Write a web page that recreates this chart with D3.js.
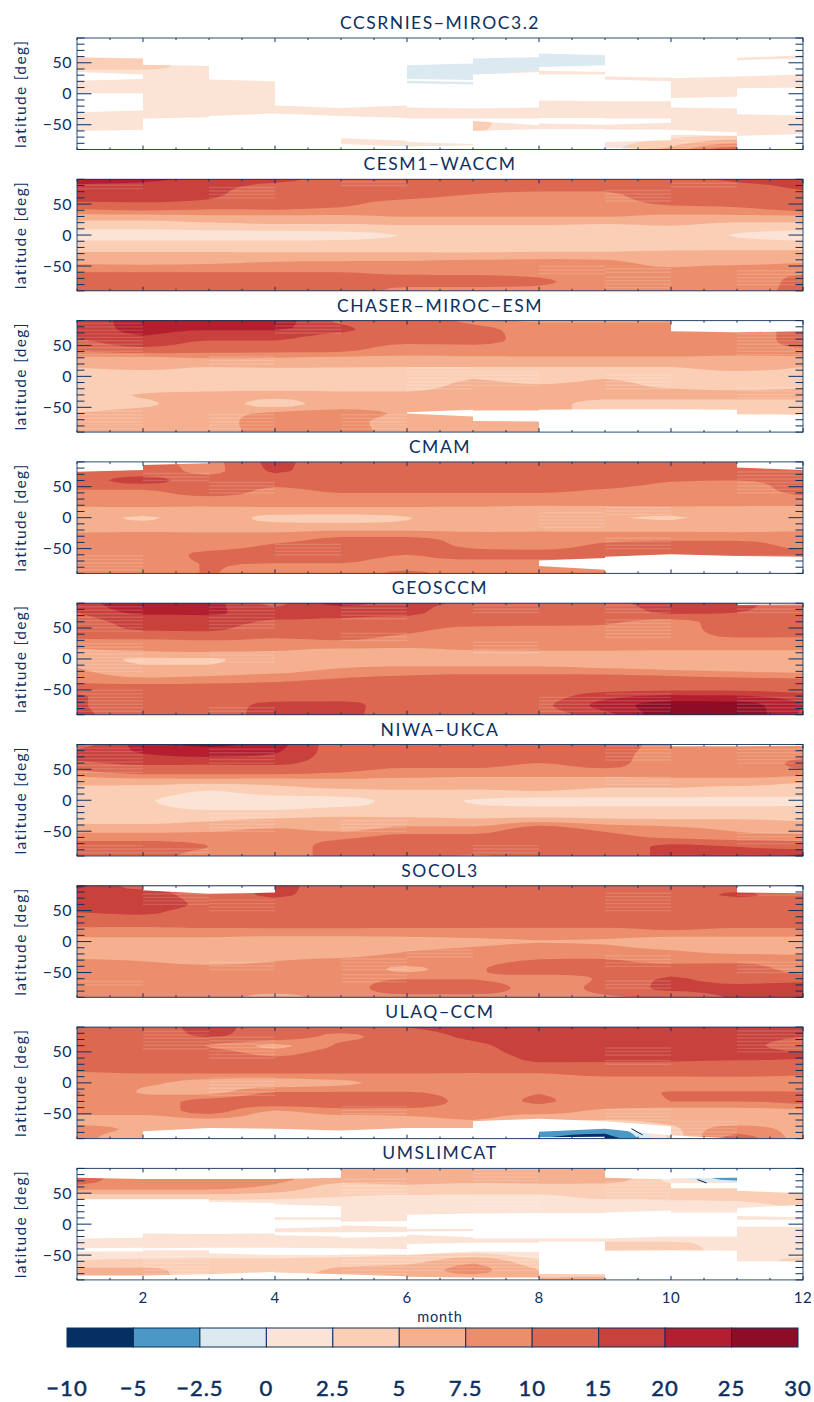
<!DOCTYPE html>
<html><head><meta charset="utf-8">
<script src="https://cdn.jsdelivr.net/npm/d3@7"></script>
<style>html,body{margin:0;padding:0;background:#fff}svg{display:block}text{font-family:Lato,"Noto Sans",sans-serif;fill:#0b2f5f}</style>
</head><body><svg id="c" width="814" height="1402"></svg>
<script>
const months=[1,2,3,4,5,6,7,8,9,10,11,12];
const lats=[90,75,60,45,30,15,0,-15,-30,-45,-60,-75,-90];
const levels=[-10,-5,-2.5,0,2.5,5,7.5,10,15,20,25];
const levelLabels=["−10","−5","−2.5","0","2.5","5","7.5","10","15","20","25","30"];
const colours=["#053061","#4b98c6","#dbe9f1","#fbe3d6","#fbcfb6","#f5b090","#ec8e6c","#dc6851","#c8413c","#b31f2e","#8e0c25"];
const names=["CCSRNIES−MIROC3.2","CESM1−WACCM","CHASER−MIROC−ESM","CMAM","GEOSCCM","NIWA−UKCA","SOCOL3","ULAQ−CCM","UMSLIMCAT"];

const ccsrnies=[
[1,1,1,1,1,1,1,1,1,1,1,1],
[1,1,1,1,1,1,1,1,1,1,1,1],
[3,3,1,1,1,-1,-1,-1,-1,1,1,1],
[3.5,3.5,1,1,1,-1,-1,-1,-1,1,1,1],
[1,1,1,1,1,-1,-1,1,1,1,1,1],
[1,1,1,1,1,-1,-1,1,1,1,1,1],
[1,1,1,1,1,1,1,1,1,1,1,1],
[1,1,1,1,1,1,1,1,1,1,1,1],
[1,1,1,1,1,1,1,1,1,1,1,1],
[1,1,1,1,1,1,2.7,1.5,1,1,1,1],
[1,1,1,1,1,1,2.7,1,1,1,1,1.5],
[1,1,1,1,1,1,1,1,1.5,3,5.5,2],
[1,1,1,1,1,2,1,1,2,6,12,2]];
const ccsrniesMask=[
[1,-90,-90,-60,-58],[1,-30,-27,1,1],[1,21,24,35,31],[1,59,57,90,90],
[2,-90,-90,-40,-38],[2,47,45,90,90],
[3,-90,-90,-36,-32],[3,23,20,90,90],
[4,-90,-90,-32,-36],[4,-19,-23,90,90],
[5,-90,-90,-81,-85],[5,-72,-76,-36,-39],[5,-23,-19,90,90],
[6,-90,-90,-85,-83],[6,-78,-81,-40,-40],[6,-22,-24,17,15],[6,21,19,24,22],[6,46,49,90,90],
[7,-90,-90,-60,-57],[7,-44,-51,-40,-40],[7,-24,-22,31,35],[7,57,59,90,90],
[8,-90,-90,-57,-57],[8,-48,-50,-39,-39],[8,-11,-12,31,31],[8,37,35,43,46],[8,65,62,90,90],
[9,-90,-90,-87,-90],[9,-78,-75,-58,-58],[9,-50,-47,-40,-40],[9,-12,-12,23,20],[9,28,26,90,90],
[10,-66,-68,-58,-62],[10,-22,-24,-7,-5],[10,25,28,90,90],
[11,-90,-90,-68,-65],[11,-33,-35,9,10],[11,28,31,54,57],[11,58,62,90,90]];
const ccsrniesStripes=[[10,-90,-70]];

const cesm=[
[23,21,19,17,13,13,13,12,12,13,16,18],
[18,18,17,12,12,12,11,10.5,10.5,13,13,15.5],
[17,17,15.5,10.5,10.5,10.2,9.5,9,9,12,12,13],
[11,12,11,10.5,10,9,9,8.5,8.5,9.5,10,12],
[6.5,6.5,7,7,7,7.6,7.6,7.6,7.6,7,7,7],
[3.5,3.5,4,4.5,4.5,4.8,4.8,4.8,4.5,5,4,4],
[1.5,1.5,1.5,1.5,1.8,2.6,3.2,3.2,3.2,3,2.4,1.5],
[3.5,3.5,3.5,3.5,3.5,3.5,3.5,3.5,3.5,3.5,3.5,3.5],
[5.3,5.3,5.3,5.3,5.3,5.3,5.3,5.5,5.5,5.8,5.8,5.8],
[7.2,7,7.2,7.8,8,8,8.5,8.5,8,7,7,7.5],
[10,10,10,10,10,9.5,9.5,9,8,8,9,9.5],
[12,12,12,12,11,11,11,10.5,8.5,8.5,8.5,11],
[12,12,12,12,12,9,9,9,9,9,9,11]];
const cesmMask=[];
const cesmStripes=[[3,60,78],[9,55,72],[10,78,88],[5,80,88],[1,75,85],[9,-60,-50],[8,-62,-48],[11,-80,-55],[9,-85,-65]];

const chaser=[
[16,22,22,22,14,13,9,7,7,7,7,7],
[17,21,20.1,20.1,16,12,11,9,9,9,9,11],
[14.5,19,15.5,15.5,11,11,11,9,9,9,9,11],
[11,14,12,12,11,9,9,9,9,9,9,10],
[7,7,7.7,7.5,7,7,7.2,7.2,7.2,7.2,7,7],
[5.2,6,5,5.2,5.1,5,5,5,5,5,6,5],
[3,3,3,3,3,3,4.9,4,4.9,4,4,4],
[3,3,4,4,4,4,5.6,5.2,5.6,4.5,4,4.5],
[3.5,5.2,5.5,5.5,5.5,5.5,6,6,6,6,6,6],
[3.5,4.6,6,4.2,6,6,6,6,4,4,4,4],
[5.2,6,6.5,8,8.5,7,6,6,4,4,4,4],
[6,6,6.5,8.5,8.5,6,6,6,6,6,6,6],
[6,6,6,9,9,6,6,6,6,6,6,6]];
const chaserMask=[
[6,-60,-65,-58,-54],[7,-72,-73,-55,-55],[8,-90,-90,-54,-53],[9,-90,-90,-53,-53],[10,-90,-90,-53,-54],[11,-90,-90,-61,-62],
[10,73,71,90,90],[11,71,73,90,90]];
const chaserStripes=[[1,35,90],[1,-90,-55],[3,-90,-60],[3,20,35],[4,70,90],[5,-90,-60],[6,-20,15],[7,-15,10],[9,-20,5],[11,35,75],[11,-35,-15]];

const cmam=[
[11,11,9,16,12,12,12,12,12,12,12,12],
[12,12,9,15.5,12,12,12,12,12,12,12,12],
[12,17,12,12,12,12,12,12,12,10.2,10,11],
[10,10,12,9.5,10.5,10.5,10.5,10.5,9.8,9,9,11],
[9,9,9,9,9,9,9,9,9,9,9,9],
[7.2,7.2,7.2,7.2,7.2,7.2,7.2,7,7,7,7,7],
[6,4.8,6,4.5,4.4,4.9,6,6,5.2,4.8,6,4.9],
[6,6,6,6,6,6,6,6.5,6.5,6.5,6.5,6.5],
[8.5,8.5,8.5,8.5,9.8,9.8,9,8.5,8.5,8.5,8.5,8.5],
[9,9,9,10.3,11,11,9.5,9,10.5,11,11,9],
[9,9,10.5,11,11,10,11,11,11,10,11,11],
[9,9,10.1,9.9,9.9,9,9,9,9,9,9,9],
[9,9,10.1,9,9,10.5,9,9,9,9,9,9]];
const cmamMask=[
[1,74,77,90,90],[2,85,88,90,90],[11,81,77,90,90],
[8,-78,-84,-69,-65],[9,-90,-90,-63,-59],[10,-90,-90,-59,-62],[11,-90,-90,-62,-63]];
const cmamStripes=[[1,-90,-60],[2,60,75],[3,40,60],[4,-60,-40],[8,-15,10],[9,5,20],[9,-50,-30],[11,40,75],[11,-90,-60]];

const geosccm=[
[16,25,22,14,22,17,14,12,13,18,16,13],
[15,21,21,16,16,16,11,12,11,16,15,13],
[12,17,17,14.5,14.5,13,11,11,10.5,9,12,13],
[12,14.8,15.1,12,12,10.5,9,9,9,9,11,11],
[9.5,9.5,10,9.5,10,9,9,9,9,9,9.5,9.5],
[7.3,8,8.5,7.8,7.2,7.2,7.6,7.7,7.7,7.6,7.6,7.6],
[6,4.8,4.8,6,6,6,6,6,6,6,6,6],
[7.6,5.3,5.3,6,7.5,8,8,8,7.5,7,6.5,6],
[9,7.5,8,9,9.9,10.5,11,11,11,10.5,10,9.8],
[11,11,11,11,11,12,12,12,12,12,12,11],
[15.5,13,13,13,13,13,13,13,18,21,20.5,17],
[15.5,13,13,16,16,13,13,14,22,27,27,20],
[16,13,13,16.5,16,13,13,13,18,28,28,19]];
const geosccmMask=[[11,87,88,90,90]];
const geosccmStripes=[[1,45,90],[1,-90,-50],[1,-20,30],[3,50,90],[3,-5,15],[3,-90,-75],[5,65,90],[5,30,45],[7,75,90],[7,10,30],[9,75,90],[9,35,65],[9,-90,-55],[8,-90,-60],[11,75,90],[11,-90,-60]];

const niwa=[
[12,22,26,22,13,13,13,13,13,8,8,9],
[17,20,22,20,13,13,13,13,12,8,8,9],
[14,16,16,16,12,11,11,10,11,8,8,11],
[9,11,11,11,10,9,9,9,9,9,9,9],
[6,6,6,6,6.5,6.5,6,6,6,6,6,5.2],
[4,4,2.4,4,4.5,4.8,4.8,5,4.5,4.5,4,4],
[3,2.7,1.5,1.5,1.8,3,2.4,2,2,2,2,2],
[3,3,2.4,2.4,3,3,3,3,3,3,3,3],
[4,4,4.5,5.1,5.5,5.5,5.1,5.5,5.1,4.9,4.9,4.5],
[6,6,6.5,7.5,6.5,8,8,11,9,8,7,6.5],
[9,9,9,9,9.5,11,11,12,11,9.5,8.5,8.5],
[11,11,10,9,11,12,12,12,12,16,15,13],
[11,11,9,9,11,12,9.5,12,12,16,16,22]];
const niwaMask=[[10,87,87,90,90],[11,87,88,90,90]];
const niwaStripes=[[1,45,90],[1,-90,-70],[2,-90,-75],[3,-50,-20],[3,60,85],[5,-50,-30],[7,-90,-70],[9,65,90],[9,20,40],[11,-70,-50],[11,60,90]];

const socol=[
[22,13,13,16,13,13,13,13,13,13,13,13],
[17,17,13,15.5,13,13,13,13,13,13,15.5,13],
[17,17,14,13,12,12,12,12,12,12,12,12],
[14.5,15.4,12,12,12,12,12,12,12,12,12,12],
[11,11,11,11,11,11,11,11,11,11,11,11],
[9,9,9,9,9,9,9,9,9,9.5,9,9],
[6.5,6.5,6.5,6,6,6.5,7,7.4,7.3,6,6.5,6.5],
[6,6,6,6,6,7.4,8,9,8.5,7.6,7,7],
[7.7,7.4,7,7.4,8,8.5,9,10.1,10.2,9,9,8],
[8,8,8,8,9,7,9.5,11.5,11,12,12,8],
[10.1,9,9,9,9,9.9,9.9,9,10.5,15.5,13,13],
[9,9,9,9,9,11.5,11.5,9,11,16,16,17],
[9,9,9,6,9,9,9,9,9.5,11,15.5,16]];
const socolMask=[[2,83,77,90,90],[3,77,79,90,90],[11,79,78,90,90]];
const socolStripes=[[1,-70,-60],[2,60,85],[3,50,70],[3,-45,-30],[5,-45,-25],[5,-65,-50],[6,-25,-10],[9,50,80],[9,-40,-20],[9,-75,-60],[11,75,90],[11,-50,-30]];

const ulaq=[
[12,12,17,12,12,15.2,17,17,17,17,17,17],
[12,12,15.3,12,9.5,12,16,17,17,17,17,15.1],
[12,12,9.8,7,10.5,12,14,17,17,17,16.5,12],
[12,12,12,9.5,12,12,13,16,16,17,17,15.8],
[12,12,12,12,12,12,12,14.5,14.5,14,13,13],
[9.5,10,10,10,10,10,9.9,9.9,11,11,11,10.5],
[8.5,8,6.5,6,7,8.5,9,9,8.5,8.5,8.5,8.5],
[10.2,7.3,6.8,10.1,10.1,10.1,9,9.9,9,10.1,10.1,10.1],
[9,9,11,12,12,12,9,10.2,9,10,10,10.5],
[8.5,8.5,11,7.4,9,9,8.5,8.5,7,6.5,6.5,7],
[6.5,6.5,7,6,6,6.5,7.5,5,5,6,6,6],
[8.5,7,6,5,5,5,5,-3,-3.5,4,9,6],
[9,5,5,5,5,5,5,-4.9,-6,3,11,6]];
const ulaqMask=[
[2,-90,-90,-78,-73],[3,-90,-90,-73,-74],[4,-90,-90,-74,-77],[5,-90,-90,-77,-73],[6,-90,-90,-73,-73],
[7,-90,-90,-62,-58],[8,-79,-74,-58,-62],[8,-90,-90,-88,-87],[9,-74,-85,-62,-70],[10,-90,-90,-85,-90]];
const ulaqStripes=[[2,55,85],[3,40,75],[3,-20,10],[5,-50,-35],[9,45,60],[9,30,40],[9,-60,-40],[10,-85,-60],[11,50,85]];

const umslimcat=[
[6,6,6,6,6,6,5,6,7,3,2,2],
[12,8,8,8,6,6,6,6.5,6.5,1.5,-4,2],
[9,8,8,7,4,4.5,4,4,4,3,3,3],
[4,4,4,3.5,2.6,2.2,2.2,2.2,3,3,3,4],
[1,1,1,1,1,1,1,1,1.5,1.5,1.8,3],
[1,1,1,1,1,1,1,1,1,1,1,1],
[1,1,1,1,1,1,1,1,1,1,1,1],
[1,1,1,1,1,1,1,1,1,1,1,1],
[1,1,1,1,1,1,1,1,2.7,2.7,1.5,1],
[1.5,1.5,1.5,1.5,1.5,2,2,1,3.5,3.5,1.5,1.5],
[2.7,3,3,3,3.5,4,7.2,3,2,2,2,3],
[5.5,5.5,4,4,5.5,6.5,8,5,3,2,2,2],
[5,5,5,5,5.5,5,6,5,6,2,2,2]];
const umslimcatMask=[
[1,-90,-90,-83,-83],[1,-44,-44,-39,-38],[1,-23,-22,40,40],[1,75,73,90,90],
[2,-90,-90,-83,-81],[2,-42,-42,-39,-38],[2,-15,-16,40,40],[2,73,73,90,90],
[3,-90,-90,-81,-77],[3,-47,-50,-38,-38],[3,-16,-15,36,34],[3,73,73,90,90],
[4,-90,-90,-78,-81],[4,-50,-50,-38,-39],[4,-18,-20,-13,-13],[4,-7,-4,7,7],[4,11,11,32,29],[4,73,75,90,90],
[5,-90,-90,-81,-84],[5,-49,-49,-39,-40],[5,-22,-20,-13,-13],[5,-2,-4,4,5],
[6,-90,-90,-85,-86],[6,-50,-44,-32,-30],[6,-17,-21,-12,-11],[6,-8,-8,15,17],
[7,-90,-90,-86,-86],[7,-44,-45,-30,-30],[7,-23,-23,17,18],
[8,-80,-81,-28,-28],[8,-23,-23,18,18],
[9,-90,-90,-43,-42],[9,-23,-20,19,22],[9,75,72,90,90],
[10,-90,-90,-42,-43],[10,-20,-20,19,19],[10,58,58,66,67],[10,74,75,90,90],
[11,-90,-90,-60,-60],[11,-4,-4,7,7],[11,13,11,26,31],[11,54,50,90,90]];
const umslimcatStripes=[[2,-80,-50],[5,50,75],[5,-80,-50],[6,-75,-50],[7,-75,-50],[7,25,45],[7,65,90],[9,40,70]];

const fields=[ccsrnies,cesm,chaser,cmam,geosccm,niwa,socol,ulaq,umslimcat];
const masks=[ccsrniesMask,cesmMask,chaserMask,cmamMask,geosccmMask,niwaMask,socolMask,ulaqMask,umslimcatMask];
const stripes=[ccsrniesStripes,cesmStripes,chaserStripes,cmamStripes,geosccmStripes,niwaStripes,socolStripes,ulaqStripes,umslimcatStripes];
/* short dark contour fragments: panel, month0, lat0, month1, lat1 */
const fragments=[[7,9.4,-74,9.57,-84],[8,10.4,72,10.54,66.5]];

const ink="#0b3060";
const stripeStep=5.6;
const svg=d3.select("#c");
const x=d3.scaleLinear().domain([1,12]).range([77,803]);
const panelTop=i=>38+i*141.3;
const panelH=111.5;

/* render-time smoothing of a column or row: monotone cubic through the read values */
const sub=4;
function refine(v){
  const n=v.length,d=d3.pairs(v,(a,b)=>b-a);
  const m=v.map((_,i)=>{
    if(i===0)return d[0];
    if(i===n-1)return d[n-2];
    const a=d[i-1],b=d[i];
    return (Math.sign(a)+Math.sign(b))*Math.min(Math.abs(a),Math.abs(b),Math.abs(a+b)/4);
  });
  const out=[];
  for(let i=0;i<n-1;i++)for(let s=0;s<sub;s++){
    const t=s/sub,t2=t*t,t3=t2*t;
    out.push((2*t3-3*t2+1)*v[i]+(t3-2*t2+t)*m[i]+(-2*t3+3*t2)*v[i+1]+(t3-t2)*m[i+1]);
  }
  out.push(v[n-1]);
  return out;
}
function refineGrid(f){
  const rows=f.map(refine);
  const cols=d3.range(rows[0].length).map(c=>refine(rows.map(r=>r[c])));
  return d3.range(cols[0].length).flatMap(r=>cols.map(c=>c[r]));
}
const nx=(months.length-1)*sub+1, ny=(lats.length-1)*sub+1;
const contourGen=d3.contours().size([nx,ny]).thresholds(levels);
const defs=svg.append("defs");

fields.forEach((field,i)=>{
  const top=panelTop(i);
  const y=d3.scaleLinear().domain([90,-90]).range([top,top+panelH]);
  const gx=d3.scaleLinear().domain([0.5,nx-0.5]).range([x(months[0]),x(months[months.length-1])]);
  const gy=d3.scaleLinear().domain([0.5,ny-0.5]).range([y(lats[0]),y(lats[lats.length-1])]);
  const path=d3.geoPath(d3.geoTransform({point(a,b){this.stream.point(gx(a),gy(b));}}));
  defs.append("clipPath").attr("id","clip"+i).append("rect").attr("x",x(1)).attr("y",top).attr("width",x(12)-x(1)).attr("height",panelH);
  const g=svg.append("g").attr("clip-path",`url(#clip${i})`);
  g.selectAll("path.band").data(contourGen(refineGrid(field))).join("path").attr("class","band")
    .attr("d",path).attr("fill",d=>colours[levels.indexOf(d.value)]);
  stripes[i].forEach(s=>{
    d3.range(s[1],s[2],stripeStep).forEach(l=>g.append("line")
      .attr("x1",x(s[0])).attr("x2",x(s[0]+1)).attr("y1",y(l)).attr("y2",y(l))
      .attr("stroke","#fff").attr("stroke-opacity",.15).attr("stroke-width",1.4));
  });
  g.selectAll("path.mask").data(masks[i]).join("path").attr("class","mask")
    .attr("d",m=>d3.line()([[x(m[0]),y(m[1])],[x(m[0]+1),y(m[2])],[x(m[0]+1),y(m[4])],[x(m[0]),y(m[3])]])+"Z")
    .attr("fill","#fff");
  fragments.filter(f=>f[0]===i).forEach(f=>g.append("line").attr("x1",x(f[1])).attr("y1",y(f[2])).attr("x2",x(f[3])).attr("y2",y(f[4])).attr("stroke","#05204a").attr("stroke-width",1));

  /* frame and ticks */
  const a=svg.append("g").attr("stroke",ink).attr("stroke-width",1).attr("fill","none");
  a.append("rect").attr("x",x(1)).attr("y",top).attr("width",x(12)-x(1)).attr("height",panelH).attr("stroke-opacity",.85);
  d3.range(-90,91,10).forEach(l=>{
    const len=l%50===0?14.5:7.5;
    a.append("line").attr("x1",x(1)).attr("x2",x(1)+len).attr("y1",y(l)).attr("y2",y(l));
    a.append("line").attr("x1",x(12)).attr("x2",x(12)-len).attr("y1",y(l)).attr("y2",y(l));
  });
  d3.range(1,12.01,0.5).forEach(m=>{
    const len=(m%2===0)?4:2;
    a.append("line").attr("x1",x(m)).attr("x2",x(m)).attr("y1",top).attr("y2",top+len);
    a.append("line").attr("x1",x(m)).attr("x2",x(m)).attr("y1",top+panelH).attr("y2",top+panelH-len);
  });
  [50,0,-50].forEach(l=>svg.append("text").attr("x",72).attr("y",y(l)+5.5).attr("text-anchor","end").attr("font-size",16).attr("letter-spacing",.5).text(l<0?"−"+(-l):l));
  svg.append("text").attr("transform",`translate(26,${y(0)}) rotate(-90)`).attr("text-anchor","middle").attr("font-size",15.5).attr("letter-spacing",1.35).text("latitude [deg]");
  svg.append("text").attr("x",440).attr("y",top-9).attr("text-anchor","middle").attr("font-size",17.5).attr("letter-spacing",1.55).text(names[i]);
});

const lastBottom=panelTop(fields.length-1)+panelH;
d3.range(2,13,2).forEach(m=>svg.append("text").attr("x",x(m)).attr("y",lastBottom+23).attr("text-anchor","middle").attr("font-size",15).attr("letter-spacing",.5).text(m));
svg.append("text").attr("x",440).attr("y",1322).attr("text-anchor","middle").attr("font-size",14.5).attr("letter-spacing",.8).text("month");

const cb=d3.scaleBand().domain(d3.range(colours.length)).range([67,798]);
svg.selectAll("rect.cb").data(colours).join("rect").attr("class","cb")
  .attr("x",(d,i)=>cb(i)).attr("y",1328).attr("width",cb.bandwidth()).attr("height",19)
  .attr("fill",d=>d).attr("stroke",ink).attr("stroke-width",1);
levelLabels.forEach((t,i)=>svg.append("text").attr("x",cb(0)+i*cb.bandwidth()).attr("y",1396).attr("text-anchor","middle")
  .attr("font-size",22).attr("stroke","#0b2f5f").attr("stroke-width",.5).attr("letter-spacing",1).text(t));
</script></body></html>
